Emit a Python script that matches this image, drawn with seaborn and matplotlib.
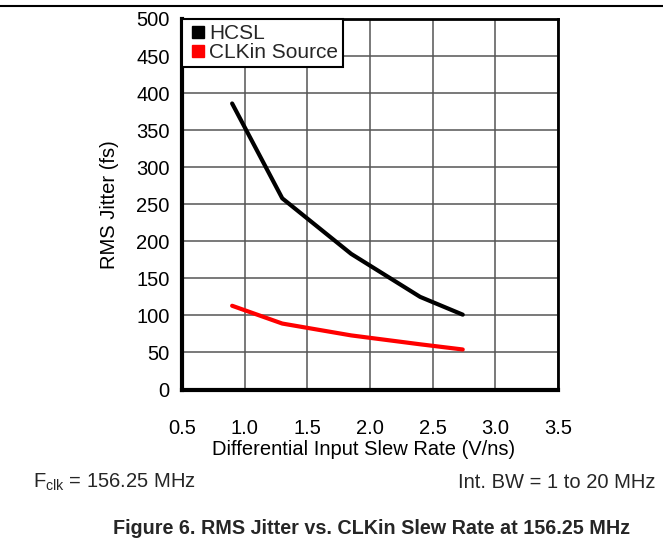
import matplotlib
matplotlib.use("Agg")
import matplotlib.pyplot as plt
import seaborn as sns
import pandas as pd
from matplotlib.lines import Line2D

sns.set_theme(style="white")
plt.rcParams['font.family'] = ['Liberation Sans', 'DejaVu Sans']

slew = [0.90, 1.30, 1.85, 2.40, 2.74]
hcsl = [386, 258, 183, 125, 101]
clkin = [113, 89, 73, 61, 54]
series_names = ["HCSL", "CLKin Source"]
colors = ["#000000", "#ff0000"]
x_ticks = [0.5, 1.0, 1.5, 2.0, 2.5, 3.0, 3.5]
y_ticks = [0, 50, 100, 150, 200, 250, 300, 350, 400, 450, 500]

df = pd.DataFrame({
    "slew": slew * 2,
    "jitter": hcsl + clkin,
    "series": [series_names[0]] * len(slew) + [series_names[1]] * len(slew),
})

FS = 14.5

fig = plt.figure(figsize=(6.63, 5.43), dpi=100)
ax = fig.add_axes([182/663, 1 - 389.5/543, (558-182)/663, (389.5-19)/543])

sns.lineplot(data=df, x="slew", y="jitter", hue="series", palette=colors,
             linewidth=3, ax=ax, legend=False)

ax.set_xlim(0.5, 3.5)
ax.set_ylim(0, 500)
ax.set_xticks(x_ticks)
ax.set_xticklabels([f"{v:.1f}" for v in x_ticks])
ax.set_yticks(y_ticks)
ax.grid(True, color="#555555", linewidth=1.1)
ax.set_axisbelow(True)
ax.tick_params(axis="both", length=0, labelsize=FS, colors="black")
ax.tick_params(axis="x", pad=21)
ax.tick_params(axis="y", pad=9)
ax.set_xlabel("Differential Input Slew Rate (V/ns)", fontsize=FS, color="black", labelpad=3)
ax.xaxis.set_label_coords(0.483, -0.135)
ax.set_ylabel("RMS Jitter (fs)", fontsize=FS, color="black", labelpad=12)
for side, sp in ax.spines.items():
    sp.set_visible(True)
    sp.set_color("black")
    sp.set_linewidth(3 if side in ("left", "bottom") else 2)

handles = [Line2D([], [], marker="s", linestyle="none", color=c, markersize=8) for c in colors]
leg = ax.legend(handles, series_names, loc="upper left", fontsize=15,
                frameon=True, fancybox=False, borderpad=0.25, handletextpad=0.05,
                labelspacing=0.0, handlelength=1.0, borderaxespad=0.0)
leg.get_frame().set_edgecolor("black")
leg.get_frame().set_linewidth(1.5)
leg.get_frame().set_alpha(1)

fig.add_artist(Line2D([0, 1], [1 - 6/543, 1 - 6/543], color="black", linewidth=1.5,
                      transform=fig.transFigure))
fig.text(33/663, 1 - 482/543, r"F$_{\mathregular{clk}}$ = 156.25 MHz", fontsize=FS,
         ha="left", va="center")
fig.text(655/663, 1 - 482/543, "Int. BW = 1 to 20 MHz", fontsize=FS,
         ha="right", va="center")
fig.text(372/663, 1 - 528/543, "Figure 6. RMS Jitter vs. CLKin Slew Rate at 156.25 MHz",
         fontsize=14.2, fontweight="bold", ha="center", va="center")

fig.savefig("out.png", dpi=100)
